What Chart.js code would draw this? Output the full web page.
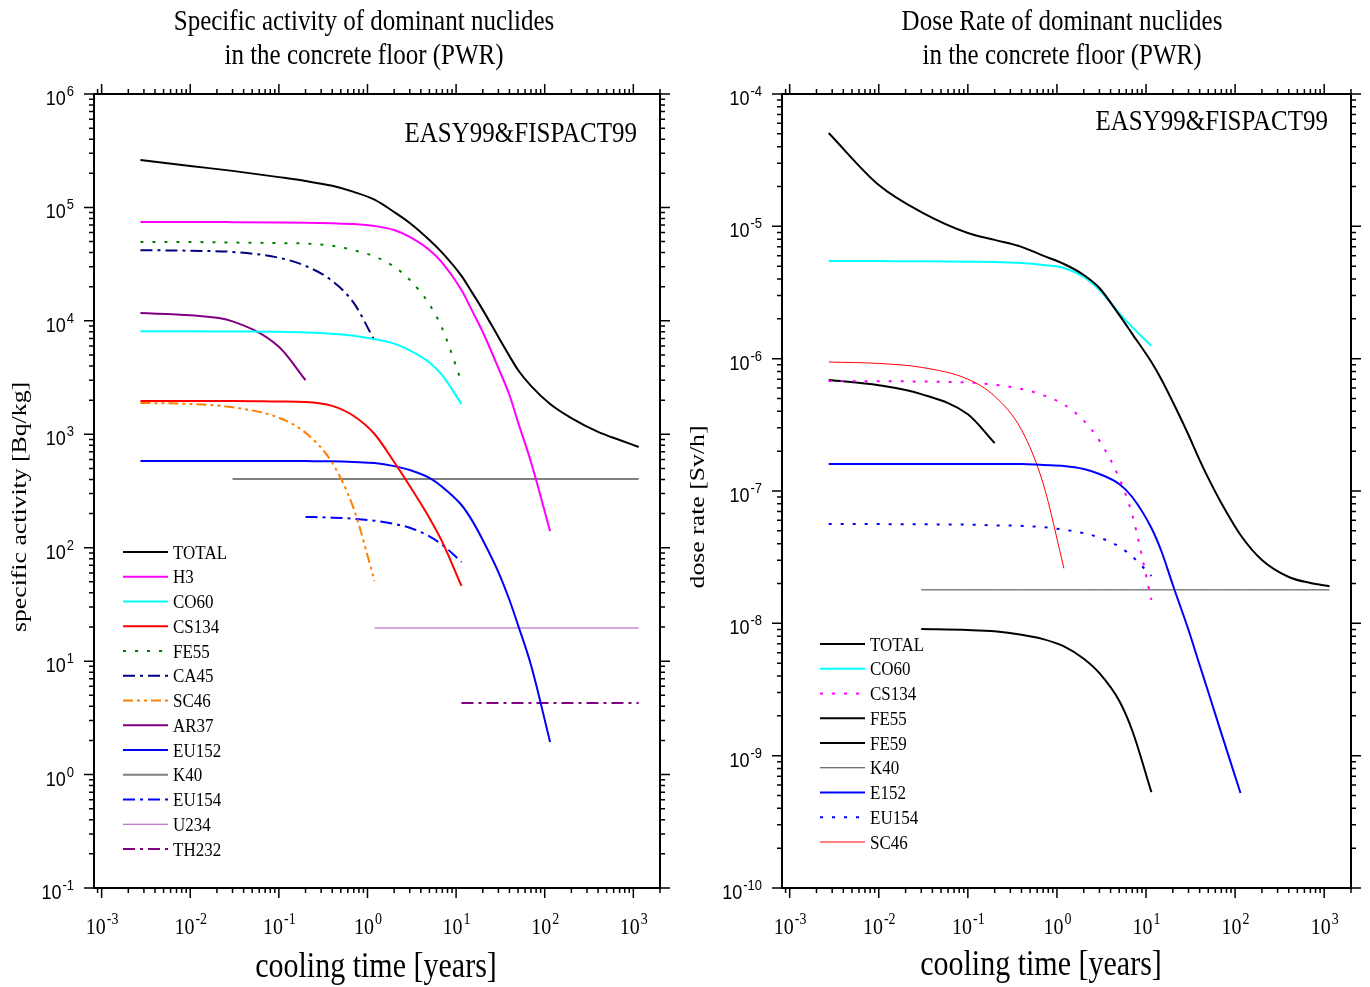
<!DOCTYPE html>
<html>
<head>
<meta charset="utf-8">
<script src="https://cdn.jsdelivr.net/npm/chart.js@4"></script>
<style>
  body { margin: 0; background: #fff; }
  #wrap { position: relative; width: 1370px; height: 987px; }
  canvas { position: absolute; top: 0; }
</style>
</head>
<body>
<div id="wrap">
  <canvas id="activity" width="685" height="987" style="left:0"></canvas>
  <canvas id="dose" width="685" height="987" style="left:685px"></canvas>
</div>
<script>
// cooling times [years], shared by all curves (null = curve not drawn there)
const times = [0.00274, 0.01, 0.03, 0.1, 0.2, 0.4, 0.7, 1.2, 2, 3, 5, 7, 11.5, 15, 20, 30, 40, 50, 70, 115, 200, 400, 700, 1150];

// specific activity [Bq/kg]
const actTotal = [2.62e5, 2.32e5, 2.10e5, 1.85e5, 1.71e5, 1.55e5, 1.37e5, 1.17e5, 9.11e4, 7.29e4, 5.16e4, 3.97e4, 2.49e4, 1.80e4, 1.25e4, 7.21e3, 4.90e3, 3.69e3, 2.67e3, 1.85e3, 1.39e3, 1.05e3, 890, 773];
const actH3 = [7.44e4, 7.44e4, 7.42e4, 7.38e4, 7.33e4, 7.25e4, 7.14e4, 6.86e4, 6.32e4, 5.49e4, 4.21e4, 3.24e4, 1.87e4, 1.25e4, 7.98e3, 3.84e3, 2.22e3, 1.28e3, 570, 140];
const actCo60 = [8.1e3, 8.1e3, 8.05e3, 8.0e3, 7.9e3, 7.7e3, 7.4e3, 6.9e3, 6.3e3, 5.5e3, 4.3e3, 3.3e3, 1.85e3];
const actCs134 = [1.97e3, 1.97e3, 1.97e3, 1.95e3, 1.93e3, 1.78e3, 1.45e3, 1.006e3, 570, 350, 183, 112, 46];
const actFe55 = [4.95e4, 4.95e4, 4.9e4, 4.85e4, 4.8e4, 4.6e4, 4.2e4, 3.7e4, 3.0e4, 2.3e4, 1.4e4, 8.5e3, 2.9e3];
const actCa45 = [4.2e4, 4.15e4, 4.05e4, 3.6e4, 3.05e4, 2.25e4, 1.44e4, 6.7e3];
const actSc46 = [1.89e3, 1.85e3, 1.73e3, 1.4e3, 1.03e3, 560, 220, 51];
const actAr37 = [1.17e4, 1.12e4, 9.9e3, 5.9e3, 3.0e3];
const actEu152 = [581, 581, 581, 581, 580, 578, 570, 558, 524, 484, 412, 343, 238, 176, 117, 61, 34.6, 20.8, 9.25, 1.94];
const actK40 = [null, null, 403, 403, 403, 403, 403, 403, 403, 403, 403, 403, 403, 403, 403, 403, 403, 403, 403, 403, 403, 403, 403, 403];
const actEu154 = [null, null, null, null, 187, 184, 180, 173, 162, 150, 126, 106, 75];
const actU234 = [null, null, null, null, null, null, null, 19.6, 19.6, 19.6, 19.6, 19.6, 19.6, 19.6, 19.6, 19.6, 19.6, 19.6, 19.6, 19.6, 19.6, 19.6, 19.6, 19.6];
const actTh232 = [null, null, null, null, null, null, null, null, null, null, null, null, 4.27, 4.27, 4.27, 4.27, 4.27, 4.27, 4.27, 4.27, 4.27, 4.27, 4.27, 4.27];

// dose rate [Sv/h]
const doseTotal = [5.07e-5, 2.05e-5, 1.28e-5, 8.9e-6, 7.9e-6, 7.0e-6, 6.0e-6, 5.19e-6, 4.29e-6, 3.42e-6, 2.14e-6, 1.54e-6, 9.43e-7, 6.90e-7, 4.70e-7, 2.65e-7, 1.71e-7, 1.25e-7, 8.11e-8, 4.65e-8, 3.01e-8, 2.24e-8, 2.02e-8, 1.91e-8];
const doseCo60 = [5.47e-6, 5.46e-6, 5.45e-6, 5.40e-6, 5.38e-6, 5.28e-6, 5.10e-6, 4.84e-6, 4.14e-6, 3.30e-6, 2.21e-6, 1.73e-6, 1.25e-6];
const doseCs134 = [6.78e-7, 6.75e-7, 6.72e-7, 6.6e-7, 6.35e-7, 5.9e-7, 5.3e-7, 4.5e-7, 3.4e-7, 2.4e-7, 1.25e-7, 6.6e-8, 1.5e-8];
const doseFe55 = [null, null, 9.05e-9, 8.9e-9, 8.7e-9, 8.2e-9, 7.6e-9, 6.7e-9, 5.4e-9, 4.2e-9, 2.6e-9, 1.55e-9, 5.3e-10];
const doseFe59 = [6.9e-7, 6.3e-7, 5.4e-7, 3.8e-7, 2.3e-7];
const doseK40 = [null, null, 1.79e-8, 1.79e-8, 1.79e-8, 1.79e-8, 1.79e-8, 1.79e-8, 1.79e-8, 1.79e-8, 1.79e-8, 1.79e-8, 1.79e-8, 1.79e-8, 1.79e-8, 1.79e-8, 1.79e-8, 1.79e-8, 1.79e-8, 1.79e-8, 1.79e-8, 1.79e-8, 1.79e-8, 1.79e-8];
const doseEu152 = [1.6e-7, 1.6e-7, 1.6e-7, 1.6e-7, 1.6e-7, 1.6e-7, 1.57e-7, 1.545e-7, 1.466e-7, 1.344e-7, 1.129e-7, 9.01e-8, 5.25e-8, 3.46e-8, 1.95e-8, 8.9e-9, 4.84e-9, 3.03e-9, 1.48e-9, 5.22e-10];
const doseEu154 = [5.63e-8, 5.62e-8, 5.6e-8, 5.57e-8, 5.5e-8, 5.45e-8, 5.33e-8, 5.1e-8, 4.8e-8, 4.45e-8, 3.8e-8, 3.2e-8, 2.28e-8];
const doseSc46 = [9.43e-7, 9.2e-7, 8.6e-7, 7.0e-7, 5.2e-7, 2.9e-7, 1.14e-7, 2.6e-8];

const SY = 1.17; // the original's text is stretched a little vertically
const SERIF = '"Liberation Serif", "Times New Roman", serif';
const SANS = '"Liberation Sans", Arial, sans-serif';

function text(ctx, s, x, y, size, family, align) {
  ctx.save();
  ctx.font = size + 'px ' + family;
  ctx.textAlign = align || 'left';
  ctx.textBaseline = 'alphabetic';
  ctx.fillStyle = '#000';
  ctx.translate(x, y);
  ctx.scale(1, SY);
  ctx.fillText(s, 0, 0);
  ctx.restore();
}

function power(ctx, exp, x, y, size, supSize, family, align) {
  ctx.font = size + 'px ' + family;
  const w1 = ctx.measureText('10').width;
  ctx.font = supSize + 'px ' + family;
  const w2 = ctx.measureText(exp).width;
  let x0 = x;
  if (align === 'center') x0 = x - (w1 + w2) / 2;
  if (align === 'right') x0 = x - w1 - w2;
  text(ctx, '10', x0, y, size, family);
  text(ctx, exp, x0 + w1 + 1, y - size * 0.5, supSize, family);
}

const framePlugin = {
  id: 'frame',
  afterDraw(chart, args, o) {
    const ctx = chart.ctx, a = chart.chartArea, xs = chart.scales.x, ys = chart.scales.y;
    const inX = v => v >= xs.min * 0.9999 && v <= xs.max * 1.0001;
    const inY = v => v >= ys.min * 0.9999 && v <= ys.max * 1.0001;
    ctx.save();
    ctx.strokeStyle = '#000';
    ctx.lineWidth = 2;
    ctx.strokeRect(a.left, a.top, a.right - a.left, a.bottom - a.top);
    ctx.lineWidth = 1.5;
    ctx.beginPath();
    for (let e = -12; e <= 7; e++) {
      for (let m = 1; m < 10; m++) {
        const v = m * Math.pow(10, e);
        const len = m === 1 ? 10 : 5;
        if (inX(v)) {
          const p = xs.getPixelForValue(v);
          ctx.moveTo(p, a.bottom); ctx.lineTo(p, a.bottom + len);
          ctx.moveTo(p, a.top); ctx.lineTo(p, a.top - len);
        }
        if (inY(v)) {
          const p = ys.getPixelForValue(v);
          ctx.moveTo(a.left, p); ctx.lineTo(a.left - len, p);
          ctx.moveTo(a.right, p); ctx.lineTo(a.right + len, p);
        }
      }
    }
    ctx.stroke();
    ctx.restore();

    for (let e = -12; e <= 7; e++) {
      const v = Math.pow(10, e);
      if (inX(v)) power(ctx, String(e), xs.getPixelForValue(v), a.bottom + 46, 20, 14, SERIF, 'center');
      if (inY(v)) power(ctx, String(e), a.left - 21, ys.getPixelForValue(v) + 11, 18, 13, SANS, 'right');
    }

    // titles
    o.title.forEach((line, i) => text(ctx, line, o.titleX, 30 + i * 34, 25, SERIF, 'center'));
    text(ctx, 'cooling time [years]', o.xTitleX, o.xTitleY, 30, SERIF, 'center');
    text(ctx, 'EASY99&FISPACT99', o.tagX, o.tagY, 25, SERIF, 'right');
    ctx.save();
    ctx.translate(o.yTitleX, 507);
    ctx.scale(1, SY);
    ctx.rotate(-Math.PI / 2);
    ctx.font = '22px ' + SERIF;
    ctx.textAlign = 'center';
    ctx.fillStyle = '#000';
    ctx.fillText(o.yTitle, 0, 0);
    ctx.restore();

    // legend
    chart.data.datasets.forEach((ds, i) => {
      const y = o.legendY + i * 24.75;
      ctx.save();
      ctx.strokeStyle = ds.borderColor;
      ctx.lineWidth = ds.borderWidth;
      ctx.setLineDash(ds.borderDash || []);
      ctx.beginPath();
      ctx.moveTo(o.legendX, y);
      ctx.lineTo(o.legendX + 45, y);
      ctx.stroke();
      ctx.restore();
      text(ctx, ds.label, o.legendX + 50, y + 6.5, 17, SERIF);
    });
  }
};

function series(label, values, color, width, dash) {
  return {
    label: label,
    borderColor: color,
    borderWidth: width,
    borderDash: dash || [],
    data: times.map((t, i) => ({ x: t, y: values[i] })).filter(p => p.y != null),
    pointRadius: 0,
    fill: false,
    cubicInterpolationMode: 'monotone'
  };
}

function makeChart(id, datasets, yMin, yMax, padLeft, padRight, frame) {
  return new Chart(document.getElementById(id), {
    type: 'line',
    data: { datasets: datasets },
    options: {
      responsive: false,
      animation: false,
      events: [],
      layout: { padding: { left: padLeft, right: padRight, top: 94, bottom: 99 } },
      scales: {
        x: { type: 'logarithmic', min: 8.2e-4, max: 2000, display: false },
        y: { type: 'logarithmic', min: yMin, max: yMax, display: false }
      },
      plugins: { legend: { display: false }, tooltip: { enabled: false }, frame: frame }
    },
    plugins: [framePlugin]
  });
}

const dashDot = [12, 5, 3, 5];
const dots = [3, 9];

makeChart('activity', [
  series('TOTAL', actTotal, '#000000', 2),
  series('H3', actH3, '#ff00ff', 2),
  series('CO60', actCo60, '#00ffff', 2),
  series('CS134', actCs134, '#ff0000', 2),
  series('FE55', actFe55, '#008000', 2, dots),
  series('CA45', actCa45, '#000080', 2, dashDot),
  series('SC46', actSc46, '#ff8000', 2, [10, 4, 3, 4, 3, 4]),
  series('AR37', actAr37, '#800080', 2),
  series('EU152', actEu152, '#0000ff', 2),
  series('K40', actK40, '#808080', 2),
  series('EU154', actEu154, '#0000ff', 2, dashDot),
  series('U234', actU234, '#a850b8', 1),
  series('TH232', actTh232, '#800080', 2, dashDot)
], 0.1, 1e6, 94, 25, {
  title: ['Specific activity of dominant nuclides', 'in the concrete floor (PWR)'],
  titleX: 364, xTitleX: 376, xTitleY: 977, tagX: 637, tagY: 142,
  yTitle: 'specific activity [Bq/kg]', yTitleX: 26,
  legendX: 123, legendY: 552
});

makeChart('dose', [
  series('TOTAL', doseTotal, '#000000', 2),
  series('CO60', doseCo60, '#00ffff', 2),
  series('CS134', doseCs134, '#ff00ff', 2, dots),
  series('FE55', doseFe55, '#000000', 2),
  series('FE59', doseFe59, '#000000', 2),
  series('K40', doseK40, '#404040', 1),
  series('E152', doseEu152, '#0000ff', 2),
  series('EU154', doseEu154, '#0000ff', 2, dots),
  series('SC46', doseSc46, '#ff0000', 1)
], 1e-10, 1e-4, 97, 19, {
  title: ['Dose Rate of dominant nuclides', 'in the concrete floor (PWR)'],
  titleX: 377, xTitleX: 356, xTitleY: 975, tagX: 643, tagY: 130,
  yTitle: 'dose rate [Sv/h]', yTitleX: 19,
  legendX: 135, legendY: 644
});
</script>
</body>
</html>
